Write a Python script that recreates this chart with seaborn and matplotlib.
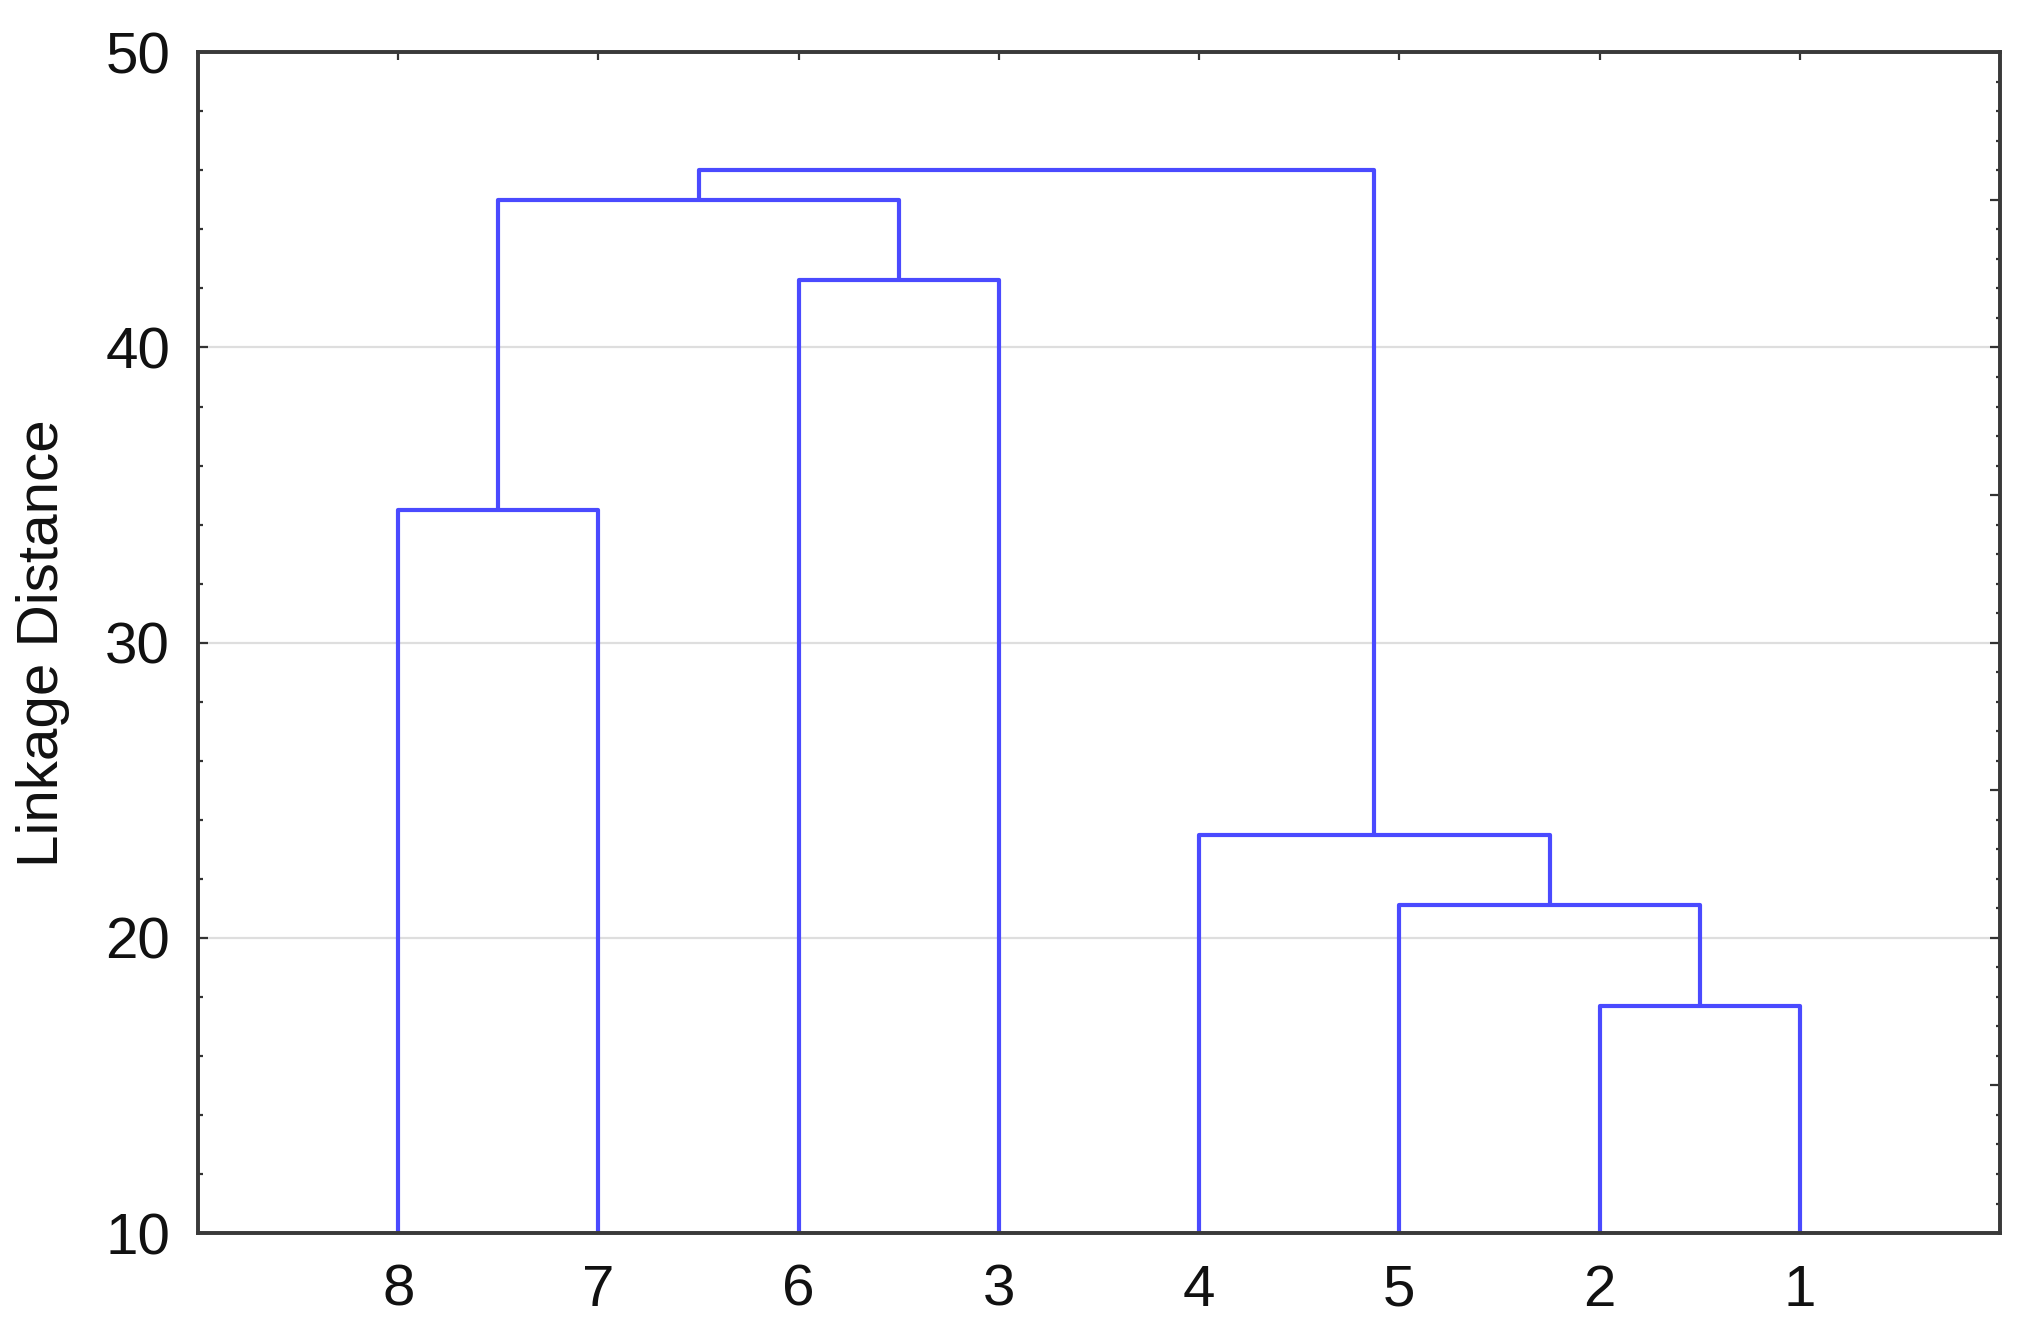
import pandas as pd
import matplotlib.pyplot as plt
import seaborn as sns
from matplotlib.ticker import MultipleLocator

# Leaf order along the x axis
leaf_labels = ["8", "7", "6", "3", "4", "5", "2", "1"]

# Merge steps (scipy-like: ids 0-7 are leaves, 8+ are merged clusters)
left_child = [0, 2, 6, 5, 4, 8, 13]
right_child = [1, 3, 7, 10, 11, 9, 12]
merge_height = [34.5, 42.3, 17.7, 21.1, 23.5, 45.0, 46.0]

y_min, y_max = 10, 50

# Build the U-shaped links of the dendrogram
node_x = [i + 1 for i in range(len(leaf_labels))]
node_h = [y_min] * len(leaf_labels)
rows = []
for k, (a, b, h) in enumerate(zip(left_child, right_child, merge_height)):
    xa, xb = node_x[a], node_x[b]
    for px, py in [(xa, node_h[a]), (xa, h), (xb, h), (xb, node_h[b])]:
        rows.append({"link": k, "x": px, "y": py})
    node_x.append((xa + xb) / 2)
    node_h.append(h)
links = pd.DataFrame(rows)

sns.set_style("white")
plt.rcParams["font.family"] = ["Liberation Sans", "DejaVu Sans"]

fig = plt.figure(figsize=(20.41, 13.41), dpi=100)
ax = fig.add_axes([0.097, 0.0805, 0.883, 0.8805])

ax.grid(axis="y", color="#dedede", lw=1.6, zorder=0)
ax.set_axisbelow(True)

sns.lineplot(data=links, x="x", y="y", units="link", estimator=None, sort=False,
             color="#4a4aff", lw=3.0, ax=ax)

ax.set_xlim(0, len(leaf_labels) + 1)
ax.set_ylim(y_min, y_max)
ax.set_xticks(range(1, len(leaf_labels) + 1))
ax.set_xticklabels(leaf_labels)
ax.yaxis.set_major_locator(MultipleLocator(10))
ax.yaxis.set_minor_locator(MultipleLocator(2))

ax.tick_params(axis="x", which="major", direction="in", top=True, bottom=True,
               length=6, width=1.6, color="#333333", labelsize=42, pad=22,
               labelcolor="#111111")
ax.tick_params(axis="y", which="major", direction="in", left=True, right=False,
               length=7, width=1.6, color="#333333", labelsize=42, pad=20,
               labelcolor="#111111")
ax.tick_params(axis="y", which="minor", direction="in", left=True, right=False,
               length=3.5, width=1.6, color="#333333")

# right-hand ticks: every 5 major, every 1 minor
ax2 = ax.twinx()
ax2.set_ylim(y_min, y_max)
ax2.yaxis.set_major_locator(MultipleLocator(5))
ax2.yaxis.set_minor_locator(MultipleLocator(1))
ax2.tick_params(axis="y", which="major", direction="in", length=7, width=1.6,
                color="#333333", labelright=False)
ax2.tick_params(axis="y", which="minor", direction="in", length=3, width=1.6,
                color="#333333")
ax2.grid(False)

for a in (ax, ax2):
    for s in a.spines.values():
        s.set_color("#3a3a3a")
        s.set_linewidth(2.6)

ax.set_xlabel("")
ax.set_ylabel("Linkage Distance", fontsize=42, color="#111111")
ax.yaxis.set_label_coords(-0.071, 0.5)

fig.savefig("out.png", dpi=100, facecolor="white")
